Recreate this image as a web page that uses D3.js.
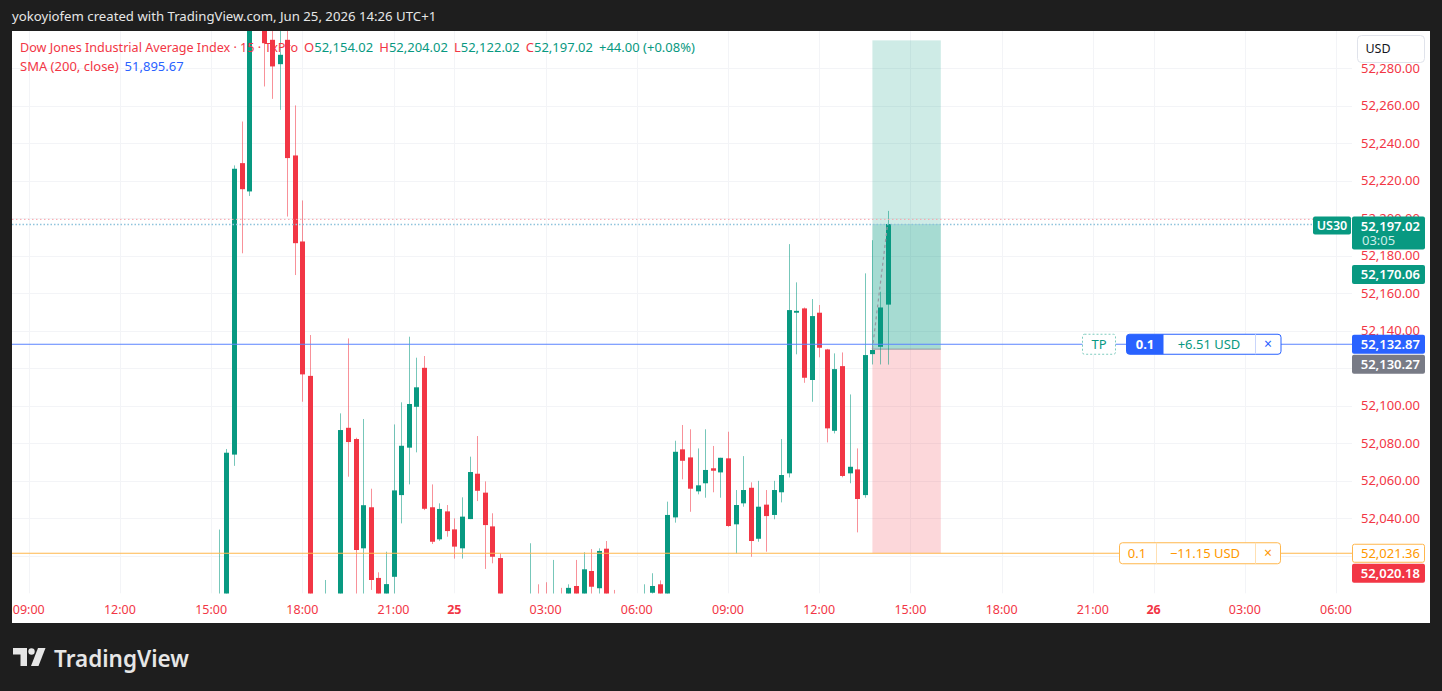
<!DOCTYPE html>
<html>
<head>
<meta charset="utf-8">
<script src="https://cdn.jsdelivr.net/npm/d3@7"></script>
<style>
body{margin:0;background:#1e1e1e;}
svg{display:block;font-family:"Noto Sans",sans-serif;}
</style>
</head>
<body>
<svg id="chart" width="1442" height="691"></svg>
<script>

// 15 min bars, index 0 = 15:00 on the 24th
let first_bar = 1

let opens = [51985,51995,52074,52229.5,52214.4,52320,52315,52295.3,52282.3,52295.3,
52233.6,52187.7,52116,51990,51985,51996,51988,52088.3,52082.3,52024,
52045.9,52008.2,51995,52008.8,52052.4,52077.7,52099.5,52120.3,52045.9,52028.8,
52043.7,52034.1,52024,52039.6,52063.8,52053.7,52035.7,52018.8,51995,51985,
51990,51985,51993,51990,51984,51994,51990,52003.9,51995,52011.9,
52002.7,52023.8,51995,51985,51980,51986,51985,52000.3,52004.8,51999,
52040.5,52076.8,52072.5,52054.4,52058.7,52066.7,52064.5,52072,52036.8,52048,
52056.3,52029.1,52047.3,52041.8,52053.9,52064,52149.7,52152,52113.8,52149.7,
52130.1,52086.7,52121.2,52064,52066.1,52052.4,52127.6,52131.5,52154.02]

let highs = [52034,52077,52228.3,52251.7,52330,52345,52325,52306,52305,52306,
52260.3,52209.6,52137.8,51995,52007.1,51999,52096,52136,52083,52093,
52055.8,52011.2,52022.2,52090.1,52101.9,52136.9,52125.7,52126.6,52058.1,52048,
52047.1,52040,52051.2,52072.9,52083.9,52059.7,52042.7,52021.3,51998,51997,
51996,52026.7,52004.8,52005.9,52017.8,52002.9,52004.8,52017.8,52021.9,52023.6,
52024,52027.9,52001.8,51994,51992,51996,52004.8,52010.7,52006.9,52048.9,
52081.4,52089.8,52087.5,52077.3,52087.5,52078.6,52072.3,52086.2,52055.1,52073.2,
52059.2,52060,52055.1,52060,52082.3,52186.3,52165.9,52152.5,52157,52153.8,
52130.4,52128,52128.5,52106.1,52077.3,52170.7,52188.4,52160.9,52204.02]

let lows = [51975,51990,52068,52181.4,52212,52305,52270.4,52263.8,52257.9,52201,
52169.8,52102.2,51980,51965,51978,51975,51982,52062.2,51995,51995,
52001.8,51990,51990,51996,52037.3,52058.1,52075.2,52044.4,52026.3,52028,
52030.2,52018.5,52018.5,52039.6,52049.2,52013,52016,51985,51975,51978,
51980,51980,51978,51975,51978,51980,51985,51990,51990,51998,
51998,51990,51978,51972,51970,51975,51980,51998,51995,51995,
52037.7,52060.8,52043.5,52052.8,52051,52053.9,52051,52035.5,52021.3,52046.2,
52019.5,52027.5,52022.2,52039.5,52048.5,52061.8,52127.5,52112.3,52102.2,52125.9,
52080.5,52085.3,52061.9,52058.7,52032.5,52051,52122.1,52122.1,52122.02]

let closes = [51995,52075,52226.5,52215.6,52320,52335,52293.5,52281.1,52287.3,52232.2,
52186.8,52116.8,51990,51975,51996,51988,52087.1,52080.7,52023.1,52047,
52007.1,51995,52004.9,52054.9,52078.7,52101,52109.9,52045.1,52027.5,52045,
52033.2,52024.9,52040.9,52064.7,52054.7,52036.4,52019.5,51995,51985,51990,
51988,51993,51985,51984,51992,51988,52002.9,51996,52012.8,52003.5,
52022.6,51998,51985,51980,51986,51984,51995,52003.9,51998,52041.8,
52075.5,52070.7,52055.8,52057.6,52065.8,52065.4,52072.3,52035.9,52047.1,52055.1,
52027.9,52046.2,52041.2,52055.1,52063.1,52151.1,52150.7,52115,52147.9,52131,
52088,52119.6,52062.6,52067.5,52050.3,52127.1,52129.8,52152.5,52197.02]

let time_ticks = [-24,-12,0,12,24,32,44,56,68,80,92,104,116,124,136,148]
let time_labels = ["09:00","12:00","15:00","18:00","21:00","25","03:00","06:00","09:00","12:00","15:00","18:00","21:00","26","03:00","06:00"]
let day_labels = ["25","26"]

let price_ticks = [52020,52040,52060,52080,52100,52120,52140,52160,52180,52200,52220,52240,52260,52280]

let tp_line = 52132.87
let sl_line = 52021.36
let entry_price = 52130.27
let target_price = 52295
let pos_start = 87
let pos_end = 96
let ask_price = 52199.5
let bid_price = 52196.8

let axis_boxes = [
  {price:52197.02, txt:"52,197.02", sub:"03:05", fill:"#089981", color:"white"},
  {price:52170.06, txt:"52,170.06", fill:"#089981", color:"white"},
  {price:52132.87, txt:"52,132.87", fill:"#2962ff", color:"white"},
  {price:52130.27, txt:"52,130.27", fill:"#787b86", color:"white"},
  {price:52021.36, txt:"52,021.36", fill:"white", color:"#ff9800", stroke:"#ffb74d"},
  {price:52020.18, txt:"52,020.18", fill:"#f23645", color:"white"}
]

let legend_title = "Dow Jones Industrial Average Index · 15 · TxPro"
let ohlc_letters = ["O","H","L","C"]
let ohlc_values = ["52,154.02","52,204.02","52,122.02","52,197.02"]
let change_txt = "+44.00 (+0.08%)"
let sma_label = "SMA (200, close)"
let sma_value = "51,895.67"

let green = '#089981'
let red = '#f23645'

let candles = opens.map((o,k) => ({i:first_bar+k, o:o, h:highs[k], l:lows[k], c:closes[k]}))

let svg = d3.select('#chart')

let plot_left = 12, plot_right = 1352, plot_top = 31, plot_bottom = 593.5

let x = d3.scaleLinear().domain([-26.2, 150.1]).range([plot_left, plot_right])
let y = d3.scaleLinear().domain([52000, 52300]).range([593.3, 31])

// frame
svg.append('rect').attr('width',1442).attr('height',691).attr('fill','#1e1e1e')
svg.append('rect').attr('x',12).attr('y',31).attr('width',1418).attr('height',592).attr('fill','white')

svg.append('text')
.attr('x',12).attr('y',21)
.attr('fill','#e6e6e6')
.style('font-size','13.2px')
.text('yokoyiofem created with TradingView.com, Jun 25, 2026 14:26 UTC+1')

svg.append('clipPath').attr('id','plotclip')
.append('rect')
.attr('x',plot_left).attr('y',plot_top)
.attr('width',plot_right-plot_left).attr('height',plot_bottom-plot_top)

let plot = svg.append('g').attr('clip-path','url(#plotclip)')

// grid
plot.selectAll('.hgrid').data(price_ticks).enter()
.append('line')
.attr('x1',plot_left).attr('x2',plot_right)
.attr('y1',d=>Math.round(y(d))+0.5).attr('y2',d=>Math.round(y(d))+0.5)
.attr('stroke','#f3f4f7')

plot.selectAll('.vgrid').data(time_ticks).enter()
.append('line')
.attr('x1',d=>Math.round(x(d))+0.5).attr('x2',d=>Math.round(x(d))+0.5)
.attr('y1',plot_top).attr('y2',plot_bottom)
.attr('stroke','#f3f4f7')

// long position box
let px1 = x(pos_start), px2 = x(pos_end)
let last_close = closes[closes.length-1]

plot.append('rect')
.attr('x',px1).attr('width',px2-px1)
.attr('y',y(target_price)).attr('height',y(entry_price)-y(target_price))
.attr('fill',green).attr('fill-opacity',0.2)

plot.append('rect')
.attr('x',px1).attr('width',px2-px1)
.attr('y',y(last_close)).attr('height',y(entry_price)-y(last_close))
.attr('fill',green).attr('fill-opacity',0.2)

plot.append('rect')
.attr('x',px1).attr('width',px2-px1)
.attr('y',y(entry_price)).attr('height',y(sl_line)-y(entry_price))
.attr('fill',red).attr('fill-opacity',0.2)

plot.append('line')
.attr('x1',px1).attr('x2',px2)
.attr('y1',y(entry_price)).attr('y2',y(entry_price))
.attr('stroke','#9598a1').attr('stroke-width',1)

// candles
let cg = plot.selectAll('.candle').data(candles).enter()
.append('g')

cg.append('line')
.attr('x1',d=>Math.round(x(d.i))+0.5).attr('x2',d=>Math.round(x(d.i))+0.5)
.attr('y1',d=>y(d.h)).attr('y2',d=>y(d.l))
.attr('stroke',d=>d.c>=d.o ? green : red)
.attr('stroke-opacity',0.55)
.attr('stroke-width',1)

cg.append('rect')
.attr('x',d=>Math.round(x(d.i))-2)
.attr('width',5)
.attr('y',d=>y(Math.max(d.o,d.c)))
.attr('height',d=>Math.max(1.2, Math.abs(y(d.o)-y(d.c))))
.attr('fill',d=>d.c>=d.o ? green : red)

// position progress dashed line
plot.append('line')
.attr('x1',x(pos_start)).attr('y1',y(entry_price))
.attr('x2',x(candles[candles.length-1].i)).attr('y2',y(last_close))
.attr('stroke','#9598a1').attr('stroke-width',1.2)
.attr('stroke-dasharray','3,3')

// bid / ask dotted lines
plot.append('line')
.attr('x1',plot_left).attr('x2',1313)
.attr('y1',y(ask_price)).attr('y2',y(ask_price))
.attr('stroke','#f7a3aa').attr('stroke-dasharray','1.5,2.5')

plot.append('line')
.attr('x1',plot_left).attr('x2',1313)
.attr('y1',y(bid_price)).attr('y2',y(bid_price))
.attr('stroke','#8ec3dc').attr('stroke-width',1.6).attr('stroke-dasharray','1.5,2')

// order lines
svg.append('line')
.attr('x1',plot_left).attr('x2',plot_right)
.attr('y1',y(tp_line)).attr('y2',y(tp_line))
.attr('stroke','#5b84ff').attr('stroke-width',1)

svg.append('line')
.attr('x1',plot_left).attr('x2',plot_right)
.attr('y1',y(sl_line)).attr('y2',y(sl_line))
.attr('stroke','#ffb74d').attr('stroke-width',1.2)

// TP order label
let ty = y(tp_line)

svg.append('rect')
.attr('x',1082.5).attr('y',ty-10).attr('width',33).attr('height',20)
.attr('rx',2)
.attr('fill','white').attr('stroke','#7fccbf').attr('stroke-dasharray','2,2')

svg.append('text')
.attr('x',1099).attr('y',ty+4.5)
.attr('text-anchor','middle')
.attr('fill',green)
.style('font-size','13px')
.text('TP')

svg.append('rect')
.attr('x',1126.5).attr('y',ty-10).attr('width',154.5).attr('height',20)
.attr('rx',3)
.attr('fill','white').attr('stroke','#2962ff')

svg.append('path')
.attr('d',`M1129.5,${ty-10} H1163.5 V${ty+10} H1129.5 a3,3 0 0 1 -3,-3 V${ty-7} a3,3 0 0 1 3,-3 Z`)
.attr('fill','#2962ff')

svg.append('text')
.attr('x',1145).attr('y',ty+4.5)
.attr('text-anchor','middle')
.attr('fill','white')
.style('font-size','13px').style('font-weight','bold')
.text('0.1')

svg.append('text')
.attr('x',1209).attr('y',ty+4.5)
.attr('text-anchor','middle')
.attr('fill',green)
.style('font-size','13px')
.text('+6.51 USD')

svg.append('line')
.attr('x1',1255.5).attr('x2',1255.5)
.attr('y1',ty-10).attr('y2',ty+10)
.attr('stroke','#c9d5fb')

svg.append('text')
.attr('x',1268).attr('y',ty+4.5)
.attr('text-anchor','middle')
.attr('fill','#2962ff')
.style('font-size','14px')
.text('×')

// SL order label
let sy = y(sl_line)

svg.append('rect')
.attr('x',1119.5).attr('y',sy-10.5).attr('width',161).attr('height',21)
.attr('rx',3)
.attr('fill','white').attr('stroke','#ffb74d')

svg.append('text')
.attr('x',1137).attr('y',sy+4.5)
.attr('text-anchor','middle')
.attr('fill','#ff9800')
.style('font-size','13px')
.text('0.1')

svg.selectAll('.slsep').data([1156.5,1255.5]).enter()
.append('line')
.attr('x1',d=>d).attr('x2',d=>d)
.attr('y1',sy-10.5).attr('y2',sy+10.5)
.attr('stroke','#ffe0b2')

svg.append('text')
.attr('x',1205).attr('y',sy+4.5)
.attr('text-anchor','middle')
.attr('fill','#ff9800')
.style('font-size','13px')
.text('−11.15 USD')

svg.append('text')
.attr('x',1268).attr('y',sy+4.5)
.attr('text-anchor','middle')
.attr('fill','#ff9800')
.style('font-size','14px')
.text('×')

// stacked axis boxes
let last_bottom = -1
axis_boxes.forEach((b) => {
  let h = b.sub ? 33 : 19
  let top = y(b.price) - (b.sub ? 7.5 : 9.5)
  if (top < last_bottom + 1) top = last_bottom + 1
  last_bottom = top + h
  b.top = top
  b.h = h
})

// price axis, ticks hidden where a price box sits on them
let shown_ticks = price_ticks.filter(p => !axis_boxes.some(b => y(p) > b.top + 3 && y(p) < b.top + b.h - 3))

svg.selectAll('.ptick').data(shown_ticks).enter()
.append('text')
.attr('x',1420).attr('y',d=>y(d)+4.5)
.attr('text-anchor','end')
.attr('fill',red)
.style('font-size','13px')
.text(d=>d3.format(',.2f')(d))

let boxes = svg.selectAll('.abox').data(axis_boxes).enter().append('g')

boxes.append('rect')
.attr('x',d=>d.stroke ? 1352.5 : 1352).attr('y',d=>d.stroke ? d.top+0.5 : d.top)
.attr('width',d=>d.stroke ? 72 : 73).attr('height',d=>d.stroke ? d.h-1 : d.h)
.attr('rx',2)
.attr('fill',d=>d.fill)
.attr('stroke',d=>d.stroke || 'none')

boxes.append('text')
.attr('x',1420).attr('y',d=>d.top+14)
.attr('text-anchor','end')
.attr('fill',d=>d.color)
.style('font-size','13px')
.style('font-weight',d=>d.stroke ? 'normal' : '600')
.text(d=>d.txt)

boxes.filter(d=>d.sub).append('text')
.attr('x',1362).attr('y',d=>d.top+28)
.attr('fill','#cdeee8')
.style('font-size','13px')
.text(d=>d.sub)

// symbol tag
let first_box = axis_boxes[0]
svg.append('rect')
.attr('x',1313).attr('y',first_box.top).attr('width',38).attr('height',18)
.attr('rx',2)
.attr('fill',green)

svg.append('text')
.attr('x',1332).attr('y',first_box.top+13.5)
.attr('text-anchor','middle')
.attr('fill','white')
.style('font-size','12.5px').style('font-weight','600')
.text('US30')

// currency button
svg.append('rect')
.attr('x',1357.5).attr('y',35.5).attr('width',67).attr('height',27)
.attr('rx',4)
.attr('fill','white').attr('stroke','#e0e3eb')

svg.append('text')
.attr('x',1378).attr('y',53)
.attr('text-anchor','middle')
.attr('fill','#131722')
.style('font-size','12.5px')
.text('USD')

// time axis
svg.selectAll('.ttick').data(time_ticks).enter()
.append('text')
.attr('x',d=>x(d)).attr('y',614)
.attr('text-anchor','middle')
.attr('fill',red)
.style('font-size','12.5px')
.style('font-weight',(d,k)=>day_labels.includes(time_labels[k]) ? 'bold' : 'normal')
.text((d,k)=>time_labels[k])

// legend
let leg = svg.append('text')
.attr('x',20).attr('y',51.5)
.style('font-size','13px')

leg.append('tspan').attr('fill',red).style('font-size','12.6px').text(legend_title)
ohlc_letters.forEach((l,k) => {
  leg.append('tspan').attr('fill',red).attr('dx',6).text(l)
  leg.append('tspan').attr('fill',green).text(ohlc_values[k])
})
leg.append('tspan').attr('fill',green).attr('dx',6).text(change_txt)

let leg2 = svg.append('text')
.attr('x',20).attr('y',70.5)
.style('font-size','13px')

leg2.append('tspan').attr('fill',red).text(sma_label)
leg2.append('tspan').attr('fill','#2962ff').attr('dx',6).text(sma_value)

// footer logo
let logo = svg.append('g').attr('fill','#e6e6e6')
logo.append('path').attr('d','M13,648 H27 V666 H20.5 V654.5 H13 Z')
logo.append('circle').attr('cx',31.5).attr('cy',651.5).attr('r',3.2)
logo.append('path').attr('d','M38,648 H45.5 L38.5,666 H31 Z')

svg.append('text')
.attr('x',54).attr('y',666.5)
.attr('fill','#e6e6e6')
.style('font-size','22.5px').style('font-weight','600')
.text('TradingView')

</script>
</body>
</html>
